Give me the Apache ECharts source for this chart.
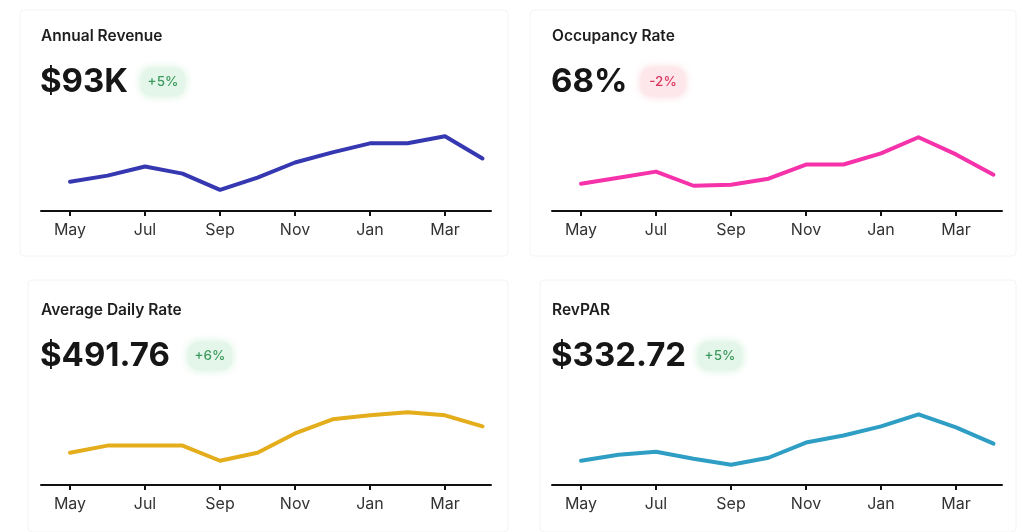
<!DOCTYPE html>
<html>
<head>
<meta charset="utf-8">
<script src="https://cdn.jsdelivr.net/npm/echarts@6/dist/echarts.min.js"></script>
<style>
  html, body { margin: 0; padding: 0; background: #fff; }
  #main { width: 1023px; height: 532px; }
</style>
</head>
<body>
<div id="main"></div>
<script>
var months = ['May', 'Jun', 'Jul', 'Aug', 'Sep', 'Oct', 'Nov', 'Dec', 'Jan', 'Feb', 'Mar', 'Apr'];
var tickIdx = [0, 2, 4, 6, 8, 10];

// heights (no y axis shown, relative units)
var revenue = [29, 35, 44, 37, 21, 33, 48, 58, 67, 67, 74, 52];
var occupancy = [27, 33, 39, 25, 26, 32, 46, 46, 57, 73, 56, 36];
var adr = [32, 39, 39, 39, 24, 32, 51, 65, 69, 72, 69, 58];
var revpar = [24, 30, 33, 26, 20, 27, 42, 49, 58, 70, 57, 41];

var titles = ['Annual Revenue', 'Occupancy Rate', 'Average Daily Rate', 'RevPAR'];
var bigValues = ['$93K', '68%', '$491.76', '$332.72'];
var changes = ['+5%', '-2%', '+6%', '+5%'];
var colors = ['#3538b0', '#f532aa', '#e3ad1b', '#2f9ec4'];
var seriesData = [revenue, occupancy, adr, revpar];

var chart = echarts.init(document.getElementById('main'), null, { renderer: 'canvas' });

var cardX = [0, 511];
var cardY = [0, 274];
var FONT = 'Inter, "Noto Sans", sans-serif';

var grids = [], xAxes = [], yAxes = [], series = [], graphics = [];

// card frames, very faint
var frames = [
  [20, 10, 488, 246], [530, 10, 486, 246],
  [28, 280, 480, 252], [540, 280, 476, 252]
];
frames.forEach(function (f) {
  graphics.push({
    type: 'rect', z: -10,
    shape: { x: f[0], y: f[1], width: f[2], height: f[3], r: 4 },
    style: { fill: '#fff', stroke: '#f4f4f4', lineWidth: 1 }
  });
});

for (var i = 0; i < 4; i++) {
  var ox = cardX[i % 2], oy = cardY[Math.floor(i / 2)];
  grids.push({ left: 41 + ox, top: 110 + oy, width: 450, height: 101 });
  xAxes.push({
    type: 'value', gridIndex: i,
    min: -29 / 37.5, max: 12 - 29 / 37.5,
    axisLine: { show: true, onZero: false, lineStyle: { color: '#111', width: 2 } },
    axisTick: { show: true, customValues: tickIdx, length: 5, lineStyle: { color: '#111', width: 2 } },
    axisLabel: {
      customValues: tickIdx, color: '#333', fontSize: 16, margin: 11, fontFamily: FONT,
      formatter: function (v) { return months[Math.round(v)]; }
    },
    splitLine: { show: false }
  });
  yAxes.push({ type: 'value', gridIndex: i, min: 0, max: 100, show: false });
  series.push({
    type: 'line', xAxisIndex: i, yAxisIndex: i,
    data: seriesData[i].map(function (v, j) { return [j, v]; }),
    symbol: 'none',
    lineStyle: { color: colors[i], width: 4, cap: 'round', join: 'round' },
    animation: false
  });

  // card texts
  graphics.push({
    type: 'text', x: 41 + ox, y: 36 + oy,
    style: { text: titles[i], fill: '#1e1e1e', font: '600 15.5px ' + FONT, verticalAlign: 'middle' }
  });
  graphics.push({
    type: 'text', x: 40 + ox, y: 82 + oy,
    style: { text: bigValues[i], fill: '#161616', font: 'bold 33px ' + FONT, verticalAlign: 'middle' }
  });
  var neg = changes[i].charAt(0) === '-';
  var bx = [163, 152, 210, 209][i] + ox;
  graphics.push({
    type: 'rect',
    shape: { x: bx - 22, y: 68 + oy, width: 44, height: 28, r: 10 },
    style: {
      fill: neg ? '#fde7ea' : '#e4f6e9',
      shadowBlur: 8, shadowColor: neg ? 'rgba(250,200,210,0.9)' : 'rgba(200,238,210,0.9)'
    }
  });
  graphics.push({
    type: 'text', x: bx, y: 82 + oy,
    style: {
      text: changes[i], fill: neg ? '#d8365e' : '#3c9a5e',
      font: '500 13.5px ' + FONT, align: 'center', verticalAlign: 'middle'
    }
  });
}

chart.setOption({
  animation: false,
  backgroundColor: '#fff',
  grid: grids,
  xAxis: xAxes,
  yAxis: yAxes,
  series: series,
  graphic: graphics
});
</script>
</body>
</html>
